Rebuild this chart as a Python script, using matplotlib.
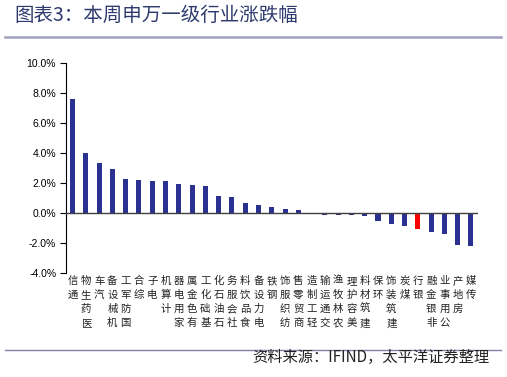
import matplotlib
matplotlib.use('Agg')
import matplotlib.pyplot as plt
from matplotlib.lines import Line2D

plt.rcParams['font.family'] = ['Noto Sans CJK SC', 'DejaVu Sans']

# 申万一级行业及本周涨跌幅(%)
industries = ['通信', '医药生物', '汽车', '机械设备', '国防军工', '综合', '电子', '计算机',
              '家用电器', '有色金属', '基础化工', '石油石化', '社会服务', '食品饮料', '电力设备',
              '钢铁', '纺织服饰', '商贸零售', '轻工制造', '交通运输', '农林牧渔', '美容护理',
              '建筑材料', '环保', '建筑装饰', '煤炭', '银行', '非银金融', '公用事业', '房地产', '传媒']
changes = [7.60, 4.00, 3.30, 2.92, 2.26, 2.21, 2.16, 2.15, 1.91, 1.84, 1.78, 1.13, 1.07,
           0.67, 0.56, 0.37, 0.25, 0.23, -0.05, -0.14, -0.15, -0.15, -0.20, -0.53, -0.74,
           -0.90, -1.05, -1.30, -1.37, -2.15, -2.22]
highlight = '银行'
yticks = [-4, -2, 0, 2, 4, 6, 8, 10]

navy = '#2B3190'
colors = ['#FF0000' if n == highlight else navy for n in industries]

fig = plt.figure(figsize=(5.07, 3.77), dpi=100)
ax = fig.add_axes([0.130, 0.276, 0.812, 0.557])

x = range(len(industries))
ax.bar(x, changes, width=0.38, color=colors, zorder=3)
ax.axhline(0, color='#404040', lw=1.0, zorder=4)

ax.set_xlim(-0.5, len(industries) - 0.5)
ax.set_ylim(-4, 10)
ax.set_yticks(yticks)
ax.set_yticklabels(['%.1f%%' % v for v in yticks], fontsize=7.5,
                   family=['Liberation Sans', 'DejaVu Sans'])
ax.tick_params(axis='y', direction='out', length=4, width=0.8, pad=3)
ax.set_xticks([])
for s in ['top', 'right', 'bottom']:
    ax.spines[s].set_visible(False)
ax.spines['left'].set_linewidth(0.8)

# 竖排行业名称
for i, name in enumerate(industries):
    ax.text(i, -4.2, '\n'.join(reversed(name)), ha='center', va='top',
            fontsize=7.5, linespacing=1.5, color='#222222')

# 标题和来源
fig.text(0.028, 0.958, '图表3：本周申万一级行业涨跌幅', fontsize=14, color='#2F3B6E',
         va='center', ha='left')
fig.add_artist(Line2D([0.01, 0.988], [0.902, 0.902], color='#A0A0C0', lw=1.8,
                      transform=fig.transFigure))
fig.add_artist(Line2D([0.01, 0.988], [0.072, 0.072], color='#8080A8', lw=1.0,
                      transform=fig.transFigure))
fig.text(0.966, 0.053, '资料来源：IFIND，太平洋证券整理', fontsize=11, color='#222222',
         va='center', ha='right')

fig.savefig('out.png', dpi=100)
